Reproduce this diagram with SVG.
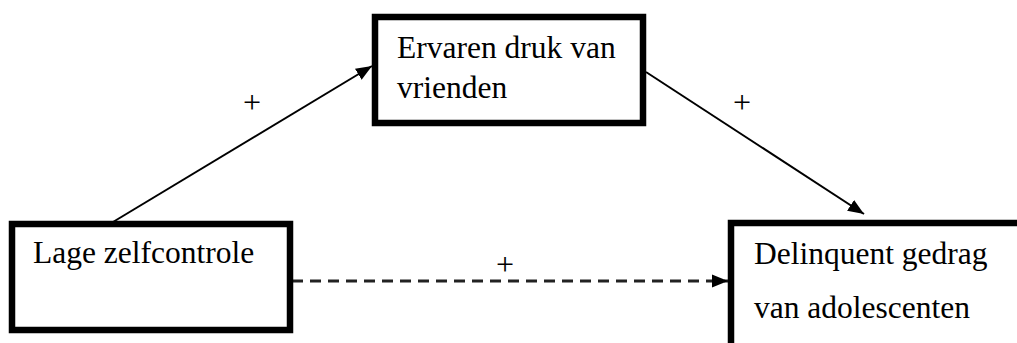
<svg xmlns="http://www.w3.org/2000/svg" width="1017" height="343" viewBox="0 0 1017 343">
<style>
.box{fill:#fff;stroke:#000;stroke-width:6.5}
.t{font-family:"Liberation Serif","Times New Roman",serif;font-size:31.5px;fill:#000}
.p{font-family:"Liberation Serif","Times New Roman",serif;font-size:32px;fill:#000}
.c{stroke:#000;stroke-width:2;fill:none}
.d{stroke:#222;stroke-width:3;fill:none;stroke-dasharray:11 7}
</style>
<defs>
<marker id="ah2" viewBox="0 0 10 10" refX="10" refY="5" markerWidth="16" markerHeight="16" markerUnits="userSpaceOnUse" orient="auto">
<path d="M0,1 L10,5 L0,9 z" fill="#000"/>
</marker>
</defs>
<g id="connectors">
<line class="c" x1="113" y1="222" x2="372" y2="66" marker-end="url(#ah2)"/>
<line class="c" x1="646" y1="72" x2="864" y2="214" marker-end="url(#ah2)"/>
<line class="d" x1="292" y1="281" x2="728" y2="281" marker-end="url(#ah2)"/>
<text class="p" x="252" y="113" text-anchor="middle">+</text>
<text class="p" x="742" y="113" text-anchor="middle">+</text>
<text class="p" x="505" y="275" text-anchor="middle">+</text>
</g>
<g id="node-ervaren">
<rect class="box" x="375" y="17" width="268" height="106"/>
<text class="t" x="397" y="58">Ervaren druk van</text>
<text class="t" x="397" y="98">vrienden</text>
</g>
<g id="node-lage">
<rect class="box" x="12" y="224" width="278" height="106"/>
<text class="t" x="33" y="263">Lage zelfcontrole</text>
</g>
<g id="node-delinquent">
<rect class="box" x="731" y="223" width="300" height="130"/>
<text class="t" x="754" y="264">Delinquent gedrag</text>
<text class="t" x="754" y="318">van adolescenten</text>
</g>
</svg>
